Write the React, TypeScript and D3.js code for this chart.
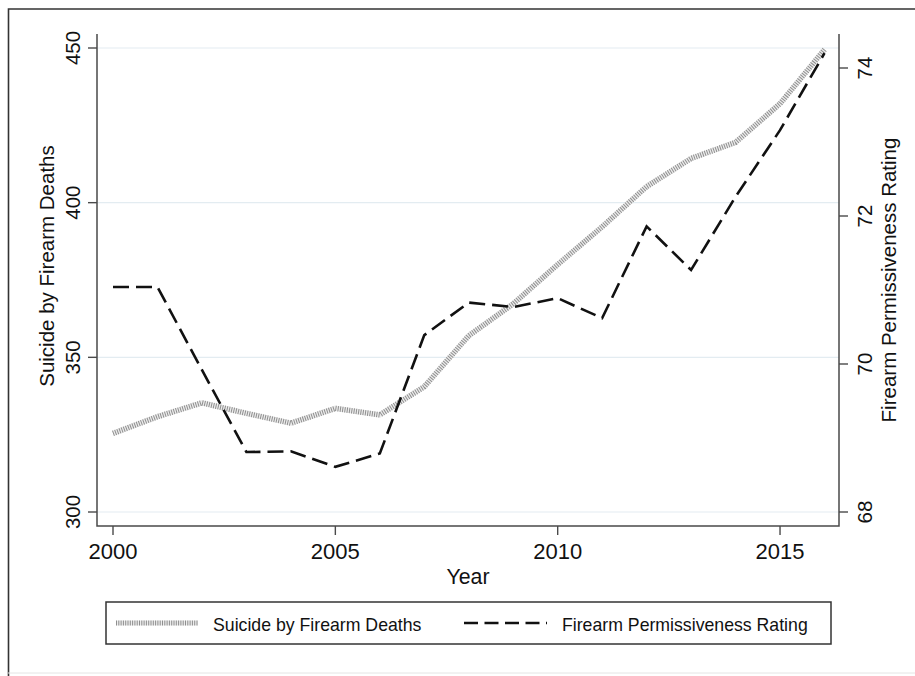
import { useEffect, useRef } from 'react';
import * as d3 from 'd3';

// data
const years = [2000, 2001, 2002, 2003, 2004, 2005, 2006, 2007, 2008, 2009, 2010, 2011, 2012, 2013, 2014, 2015, 2016];
const suicideDeaths = [325.4, 330.8, 335.3, 331.9, 328.7, 333.5, 331.4, 340.5, 357, 367.3, 380, 392.2, 405.2, 414.3, 419.5, 432, 449.5];
const permissiveness = [71.04, 71.04, 69.92, 68.81, 68.82, 68.61, 68.79, 70.39, 70.83, 70.77, 70.89, 70.62, 71.86, 71.27, 72.26, 73.16, 74.2];
const xTicks = [2000, 2005, 2010, 2015];
const leftTicks = [300, 350, 400, 450];
const rightTicks = [68, 70, 72, 74];
const seriesNames = ['Suicide by Firearm Deaths', 'Firearm Permissiveness Rating'];

const W = 915;
const H = 676;
const FONT = '"Liberation Sans", Arial, Helvetica, sans-serif';

const App: React.FC = () => {
  const svgRef = useRef<SVGSVGElement | null>(null);

  useEffect(() => {
    if (svgRef.current === null) return;
    const svg = d3.select(svgRef.current);
    svg.selectAll('*').remove();

    // plot region
    const box = { left: 97, right: 839, top: 34, bottom: 526 };

    const x = d3.scaleLinear().domain([2000, 2016]).range([113, 824.5]);
    const yL = d3.scaleLinear().domain([300, 450]).range([512, 48]);
    const yR = d3.scaleLinear().domain([68, 74]).range([512, 68]);

    const axisColor = '#4a4a4a';

    // outer frame
    svg.append('rect').attr('width', W).attr('height', H).attr('fill', '#fff');
    svg
      .append('path')
      .attr('d', `M8.5,${H + 5} L8.5,9 L${W + 5},9`)
      .attr('fill', 'none')
      .attr('stroke', '#333')
      .attr('stroke-width', 1.6);
    svg
      .append('line')
      .attr('x1', 8)
      .attr('x2', W)
      .attr('y1', 673)
      .attr('y2', 673)
      .attr('stroke', '#e4e4e4')
      .attr('stroke-width', 1);

    // gridlines
    svg
      .selectAll('.grid')
      .data(leftTicks)
      .enter()
      .append('line')
      .attr('class', 'grid')
      .attr('x1', box.left)
      .attr('x2', box.right)
      .attr('y1', (d) => yL(d))
      .attr('y2', (d) => yL(d))
      .attr('stroke', '#e3ecf1')
      .attr('stroke-width', 1.2);

    // axes lines
    svg
      .append('path')
      .attr('d', `M${box.left},${box.top} L${box.left},${box.bottom} L${box.right},${box.bottom} L${box.right},${box.top}`)
      .attr('fill', 'none')
      .attr('stroke', axisColor)
      .attr('stroke-width', 1.5);

    // left ticks
    const lt = svg.append('g');
    lt.selectAll('line')
      .data(leftTicks)
      .enter()
      .append('line')
      .attr('x1', box.left - 9)
      .attr('x2', box.left)
      .attr('y1', (d) => yL(d))
      .attr('y2', (d) => yL(d))
      .attr('stroke', axisColor)
      .attr('stroke-width', 1.4);
    lt.selectAll('text')
      .data(leftTicks)
      .enter()
      .append('text')
      .attr('transform', (d) => `translate(80,${yL(d)}) rotate(-90)`)
      .attr('text-anchor', 'middle')
      .style('font-family', FONT)
      .style('font-size', '20.5px')
      .attr('fill', '#111')
      .text((d) => d);

    // right ticks
    const rt = svg.append('g');
    rt.selectAll('line')
      .data(rightTicks)
      .enter()
      .append('line')
      .attr('x1', box.right)
      .attr('x2', box.right + 9)
      .attr('y1', (d) => yR(d))
      .attr('y2', (d) => yR(d))
      .attr('stroke', axisColor)
      .attr('stroke-width', 1.4);
    rt.selectAll('text')
      .data(rightTicks)
      .enter()
      .append('text')
      .attr('transform', (d) => `translate(872,${yR(d)}) rotate(-90)`)
      .attr('text-anchor', 'middle')
      .style('font-family', FONT)
      .style('font-size', '20.5px')
      .attr('fill', '#111')
      .text((d) => d);

    // bottom ticks
    const bt = svg.append('g');
    bt.selectAll('line')
      .data(xTicks)
      .enter()
      .append('line')
      .attr('x1', (d) => x(d))
      .attr('x2', (d) => x(d))
      .attr('y1', box.bottom)
      .attr('y2', box.bottom + 9)
      .attr('stroke', axisColor)
      .attr('stroke-width', 1.4);
    bt.selectAll('text')
      .data(xTicks)
      .enter()
      .append('text')
      .attr('x', (d) => x(d))
      .attr('y', 559)
      .attr('text-anchor', 'middle')
      .style('font-family', FONT)
      .style('font-size', '22px')
      .attr('fill', '#111')
      .text((d) => d);

    // axis titles
    svg
      .append('text')
      .attr('x', 468)
      .attr('y', 584)
      .attr('text-anchor', 'middle')
      .style('font-family', FONT)
      .style('font-size', '21.3px')
      .attr('fill', '#111')
      .text('Year');
    svg
      .append('text')
      .attr('transform', `translate(54,266) rotate(-90)`)
      .attr('text-anchor', 'middle')
      .style('font-family', FONT)
      .style('font-size', '20.5px')
      .attr('fill', '#111')
      .text(seriesNames[0]);
    svg
      .append('text')
      .attr('transform', `translate(896,280) rotate(-90)`)
      .attr('text-anchor', 'middle')
      .style('font-family', FONT)
      .style('font-size', '20.5px')
      .attr('fill', '#111')
      .text(seriesNames[1]);

    // series
    const lineL = d3
      .line<number>()
      .x((_, i) => x(years[i]))
      .y((d) => yL(d));
    const lineR = d3
      .line<number>()
      .x((_, i) => x(years[i]))
      .y((d) => yR(d));

    // hatched grey line: light base + dense perpendicular stripes
    svg
      .append('path')
      .attr('d', lineL(suicideDeaths))
      .attr('fill', 'none')
      .attr('stroke', '#ececec')
      .attr('stroke-width', 5.5);
    svg
      .append('path')
      .attr('d', lineL(suicideDeaths))
      .attr('fill', 'none')
      .attr('stroke', '#8e8e8e')
      .attr('stroke-width', 5.5)
      .attr('stroke-dasharray', '1,1.3');

    svg
      .append('path')
      .attr('d', lineR(permissiveness))
      .attr('fill', 'none')
      .attr('stroke', '#111')
      .attr('stroke-width', 2.6)
      .attr('stroke-dasharray', '16,7');

    // legend
    const lg = svg.append('g');
    lg.append('rect')
      .attr('x', 106)
      .attr('y', 602)
      .attr('width', 725)
      .attr('height', 42)
      .attr('fill', '#fff')
      .attr('stroke', '#333')
      .attr('stroke-width', 1.5);
    lg.append('line')
      .attr('x1', 116)
      .attr('x2', 198)
      .attr('y1', 623)
      .attr('y2', 623)
      .attr('stroke', '#ececec')
      .attr('stroke-width', 5);
    lg.append('line')
      .attr('x1', 116)
      .attr('x2', 198)
      .attr('y1', 623)
      .attr('y2', 623)
      .attr('stroke', '#8e8e8e')
      .attr('stroke-width', 5)
      .attr('stroke-dasharray', '1,1.3');
    lg.append('text')
      .attr('x', 213)
      .attr('y', 631)
      .style('font-family', FONT)
      .style('font-size', '17.7px')
      .attr('fill', '#111')
      .text(seriesNames[0]);
    lg.append('line')
      .attr('x1', 464)
      .attr('x2', 547)
      .attr('y1', 623)
      .attr('y2', 623)
      .attr('stroke', '#111')
      .attr('stroke-width', 2.4)
      .attr('stroke-dasharray', '14,6.5');
    lg.append('text')
      .attr('x', 562)
      .attr('y', 631)
      .style('font-family', FONT)
      .style('font-size', '17.7px')
      .attr('fill', '#111')
      .text(seriesNames[1]);
  }, []);

  return (
    <div style={{ position: 'absolute', left: 0, top: 0 }}>
      <svg ref={svgRef} width={W} height={H} style={{ display: 'block' }}></svg>
    </div>
  );
};

export default App;
